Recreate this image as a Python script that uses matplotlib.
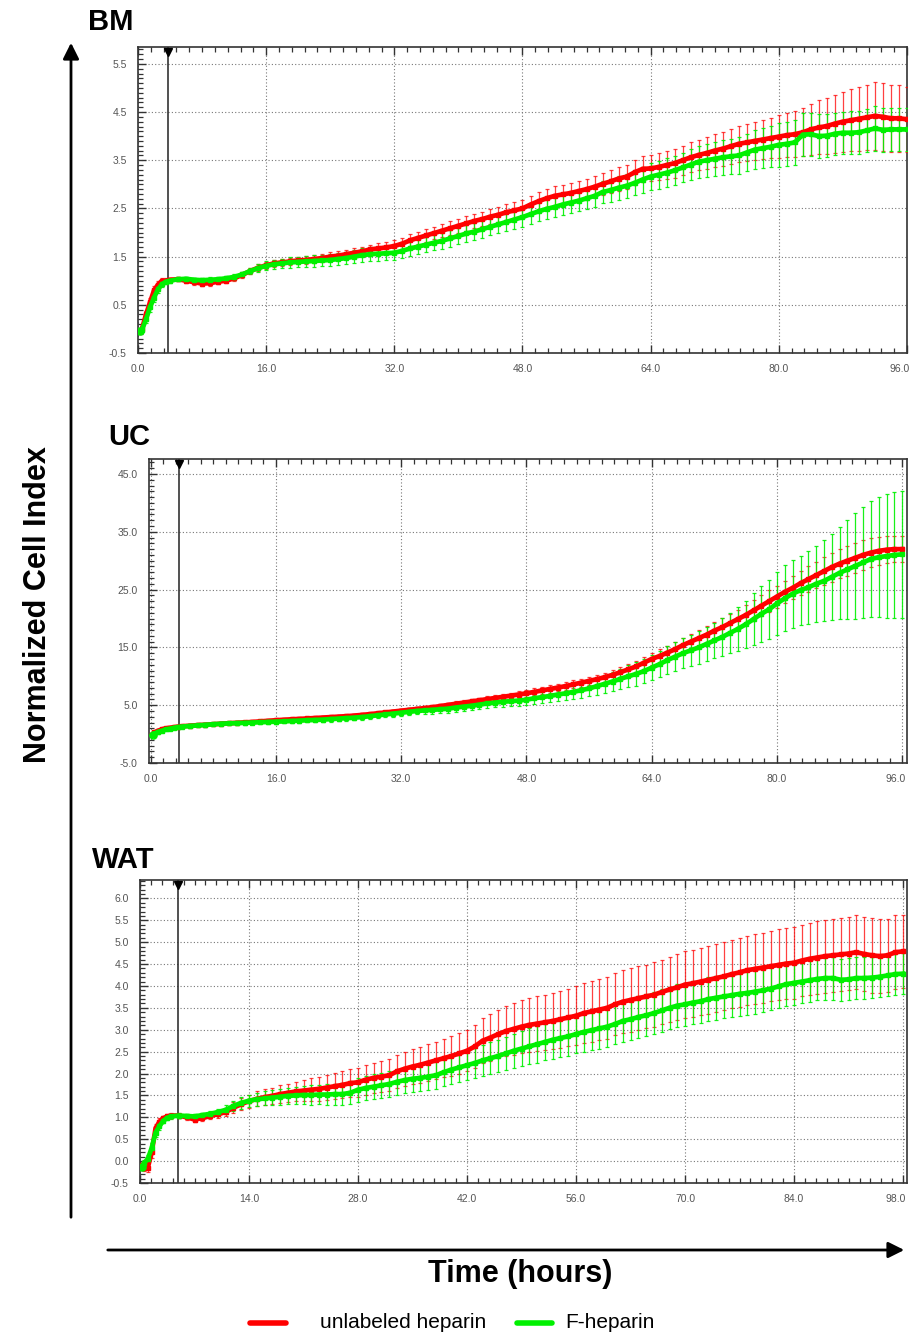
import matplotlib
matplotlib.use("Agg")
import matplotlib.pyplot as plt
from matplotlib.lines import Line2D
from matplotlib.patches import FancyArrowPatch
from matplotlib.ticker import MultipleLocator, FormatStrFormatter, FuncFormatter
import matplotlib.transforms as mtransforms

# ---------------------------------------------------------------- data
EARLY_T = [0.25, 0.5, 1.0, 1.5, 2.0, 2.5, 3.0, 3.5]

time_bm = EARLY_T + list(range(4, 97))
bm_unlabeled = [
    -0.05, 0.0, 0.3, 0.55, 0.8, 0.92, 1.0, 1.0,
    1.02, 1.03, 1.0, 0.97, 0.94, 0.95, 0.98, 1.0, 1.05, 1.12, 1.2, 1.27,
    1.32, 1.36, 1.38, 1.4, 1.42, 1.43, 1.45, 1.47, 1.5, 1.52, 1.55, 1.58,
    1.61, 1.65, 1.67, 1.69, 1.72, 1.77, 1.84, 1.89, 1.94, 1.99, 2.04, 2.09,
    2.14, 2.19, 2.24, 2.28, 2.33, 2.37, 2.42, 2.46, 2.5, 2.58, 2.65, 2.71,
    2.76, 2.79, 2.82, 2.86, 2.9, 2.95, 3.01, 3.06, 3.12, 3.16, 3.25, 3.32,
    3.33, 3.36, 3.4, 3.44, 3.5, 3.56, 3.61, 3.65, 3.7, 3.74, 3.79, 3.84,
    3.87, 3.9, 3.93, 3.96, 3.99, 4.02, 4.04, 4.08, 4.14, 4.18, 4.21, 4.26,
    4.3, 4.33, 4.36, 4.39, 4.42, 4.4, 4.37, 4.37, 4.35]
bm_unlabeled_sd = [
    0.03, 0.05, 0.08, 0.1, 0.1, 0.08, 0.06, 0.05,
    0.04, 0.04, 0.04, 0.05, 0.05, 0.05, 0.05, 0.05, 0.06, 0.06, 0.06, 0.07,
    0.07, 0.07, 0.08, 0.08, 0.08, 0.08, 0.08, 0.09, 0.09, 0.09, 0.09, 0.1,
    0.1, 0.1, 0.11, 0.11, 0.12, 0.12, 0.12, 0.13, 0.13, 0.13, 0.14, 0.14,
    0.14, 0.15, 0.15, 0.15, 0.16, 0.16, 0.17, 0.17, 0.18, 0.18, 0.19, 0.19,
    0.2, 0.2, 0.21, 0.21, 0.22, 0.22, 0.23, 0.24, 0.25, 0.25, 0.26, 0.27,
    0.27, 0.28, 0.29, 0.3, 0.3, 0.31, 0.32, 0.33, 0.34, 0.35, 0.36, 0.37,
    0.38, 0.39, 0.4, 0.42, 0.44, 0.46, 0.48, 0.5, 0.53, 0.56, 0.58, 0.6,
    0.62, 0.64, 0.66, 0.68, 0.7, 0.7, 0.69, 0.7, 0.68]
bm_fheparin = [
    -0.05, -0.02, 0.2, 0.45, 0.65, 0.82, 0.93, 0.98,
    1.0, 1.03, 1.04, 1.02, 1.01, 1.02, 1.03, 1.05, 1.08, 1.13, 1.2, 1.26,
    1.31, 1.34, 1.36, 1.38, 1.39, 1.4, 1.41, 1.42, 1.43, 1.45, 1.47, 1.5,
    1.53, 1.55, 1.56, 1.57, 1.58, 1.62, 1.67, 1.71, 1.75, 1.79, 1.83, 1.88,
    1.93, 1.98, 2.02, 2.07, 2.12, 2.17, 2.22, 2.27, 2.32, 2.38, 2.44, 2.49,
    2.53, 2.58, 2.62, 2.66, 2.71, 2.76, 2.84, 2.88, 2.93, 2.97, 3.03, 3.1,
    3.16, 3.2, 3.24, 3.29, 3.35, 3.41, 3.47, 3.5, 3.53, 3.56, 3.58, 3.6,
    3.66, 3.72, 3.75, 3.78, 3.82, 3.84, 3.87, 4.03, 4.04, 4.0, 4.01, 4.05,
    4.07, 4.07, 4.08, 4.12, 4.16, 4.13, 4.14, 4.14, 4.14]
bm_fheparin_sd = [
    0.03, 0.05, 0.08, 0.1, 0.1, 0.08, 0.06, 0.05,
    0.04, 0.04, 0.04, 0.04, 0.05, 0.05, 0.05, 0.05, 0.06, 0.06, 0.07, 0.08,
    0.09, 0.1, 0.1, 0.11, 0.11, 0.12, 0.12, 0.12, 0.13, 0.13, 0.13, 0.14,
    0.14, 0.14, 0.15, 0.15, 0.15, 0.15, 0.16, 0.16, 0.16, 0.16, 0.17, 0.17,
    0.17, 0.17, 0.18, 0.18, 0.18, 0.19, 0.19, 0.19, 0.2, 0.2, 0.2, 0.21,
    0.21, 0.21, 0.22, 0.22, 0.22, 0.23, 0.23, 0.24, 0.25, 0.25, 0.26, 0.27,
    0.28, 0.29, 0.3, 0.3, 0.31, 0.32, 0.33, 0.34, 0.35, 0.36, 0.37, 0.38,
    0.39, 0.4, 0.42, 0.43, 0.45, 0.46, 0.46, 0.45, 0.45, 0.45, 0.44, 0.44,
    0.44, 0.45, 0.45, 0.45, 0.46, 0.46, 0.45, 0.45, 0.45]

time_uc = EARLY_T + list(range(4, 97))
uc_unlabeled = [
    0.0, 0.3, 0.6, 0.85, 1.0, 1.1, 1.2, 1.28,
    1.35, 1.45, 1.55, 1.62, 1.7, 1.8, 1.88, 1.95, 2.02, 2.1, 2.2, 2.3,
    2.4, 2.48, 2.56, 2.63, 2.7, 2.78, 2.86, 2.94, 3.02, 3.1, 3.2, 3.32,
    3.45, 3.6, 3.75, 3.9, 4.05, 4.2, 4.35, 4.5, 4.65, 4.85, 5.05, 5.25,
    5.45, 5.65, 5.85, 6.05, 6.25, 6.45, 6.65, 6.85, 7.05, 7.3, 7.55, 7.8,
    8.05, 8.3, 8.6, 8.9, 9.2, 9.5, 9.85, 10.25, 10.7, 11.2, 11.7, 12.35,
    13.0, 13.5, 14.1, 14.7, 15.4, 16.0, 16.6, 17.2, 17.9, 18.5, 19.2, 19.9,
    20.6, 21.4, 22.2, 23.0, 23.8, 24.6, 25.3, 26.1, 26.8, 27.5, 28.2, 28.9,
    29.5, 30.0, 30.5, 31.0, 31.4, 31.7, 31.9, 32.0, 32.0]
uc_unlabeled_sd = [
    0.2, 0.2, 0.2, 0.2, 0.2, 0.2, 0.2, 0.2,
    0.2, 0.2, 0.2, 0.2, 0.2, 0.2, 0.2, 0.2, 0.2, 0.2, 0.2, 0.2,
    0.2, 0.2, 0.22, 0.22, 0.22, 0.24, 0.24, 0.24, 0.26, 0.26, 0.26, 0.28,
    0.28, 0.3, 0.3, 0.32, 0.32, 0.34, 0.34, 0.36, 0.36, 0.38, 0.38, 0.4,
    0.42, 0.44, 0.46, 0.48, 0.5, 0.52, 0.54, 0.56, 0.58, 0.6, 0.62, 0.64,
    0.66, 0.68, 0.7, 0.72, 0.75, 0.78, 0.8, 0.85, 0.9, 0.95, 1.0, 1.05,
    1.1, 1.15, 1.2, 1.25, 1.3, 1.35, 1.4, 1.45, 1.5, 1.55, 1.6, 1.65,
    1.7, 1.75, 1.8, 1.85, 1.9, 1.95, 2.0, 2.1, 2.2, 2.3, 2.4, 2.5,
    2.5, 2.6, 2.6, 2.6, 2.5, 2.4, 2.3, 2.2, 2.2]
uc_fheparin = [
    -0.2, 0.1, 0.4, 0.6, 0.8, 0.95, 1.1, 1.2,
    1.3, 1.4, 1.5, 1.6, 1.7, 1.8, 1.85, 1.9, 1.95, 2.0, 2.05, 2.1,
    2.15, 2.2, 2.27, 2.33, 2.4, 2.45, 2.5, 2.6, 2.68, 2.76, 2.84, 2.95,
    3.1, 3.25, 3.4, 3.55, 3.7, 3.85, 4.0, 4.1, 4.2, 4.3, 4.4, 4.6,
    4.75, 4.9, 5.1, 5.3, 5.45, 5.6, 5.7, 5.8, 5.95, 6.2, 6.4, 6.6,
    6.85, 7.05, 7.3, 7.6, 7.9, 8.3, 8.7, 9.1, 9.55, 10.0, 10.4, 10.9,
    11.5, 12.1, 12.8, 13.4, 14.0, 14.5, 15.0, 15.6, 16.2, 16.8, 17.5, 18.2,
    19.0, 19.9, 20.8, 21.6, 22.6, 23.5, 24.3, 24.9, 25.4, 26.0, 26.5, 27.2,
    27.9, 28.5, 29.1, 29.7, 30.3, 30.6, 30.8, 31.0, 31.1]
uc_fheparin_sd = [
    0.3, 0.3, 0.3, 0.3, 0.3, 0.3, 0.3, 0.3,
    0.3, 0.3, 0.3, 0.3, 0.3, 0.3, 0.3, 0.32, 0.32, 0.32, 0.34, 0.34,
    0.35, 0.36, 0.37, 0.38, 0.39, 0.4, 0.41, 0.42, 0.43, 0.44, 0.45, 0.46,
    0.48, 0.5, 0.52, 0.54, 0.56, 0.58, 0.6, 0.62, 0.64, 0.66, 0.68, 0.7,
    0.72, 0.75, 0.78, 0.81, 0.84, 0.87, 0.9, 0.94, 0.98, 1.02, 1.06, 1.1,
    1.15, 1.2, 1.25, 1.3, 1.38, 1.45, 1.55, 1.65, 1.8, 1.9, 2.0, 2.1,
    2.2, 2.3, 2.4, 2.5, 2.6, 2.7, 2.8, 2.9, 3.1, 3.3, 3.5, 3.8,
    4.1, 4.5, 4.8, 5.1, 5.5, 5.7, 5.9, 6.0, 6.3, 6.6, 7.0, 7.4,
    8.0, 8.5, 9.2, 9.6, 10.0, 10.4, 10.7, 10.9, 11.0]

time_wat = EARLY_T + list(range(4, 99))
wat_unlabeled = [
    -0.1, -0.15, -0.15, 0.2, 0.75, 0.9, 0.98, 1.02,
    1.04, 1.04, 1.0, 0.95, 0.98, 1.03, 1.07, 1.12, 1.22, 1.3, 1.37, 1.42,
    1.46, 1.49, 1.53, 1.56, 1.59, 1.61, 1.63, 1.65, 1.68, 1.71, 1.74, 1.78,
    1.8, 1.86, 1.9, 1.93, 1.96, 2.05, 2.11, 2.16, 2.2, 2.25, 2.3, 2.35,
    2.4, 2.46, 2.52, 2.62, 2.75, 2.82, 2.9, 2.97, 3.02, 3.07, 3.11, 3.14,
    3.17, 3.2, 3.24, 3.28, 3.32, 3.38, 3.42, 3.46, 3.5, 3.58, 3.64, 3.68,
    3.72, 3.76, 3.8, 3.86, 3.92, 3.97, 4.03, 4.06, 4.1, 4.14, 4.18, 4.22,
    4.27, 4.31, 4.36, 4.39, 4.42, 4.45, 4.48, 4.51, 4.53, 4.58, 4.62, 4.65,
    4.68, 4.7, 4.72, 4.74, 4.77, 4.73, 4.7, 4.68, 4.7, 4.77, 4.79]
wat_unlabeled_sd = [
    0.05, 0.08, 0.1, 0.12, 0.1, 0.08, 0.06, 0.05,
    0.05, 0.05, 0.05, 0.05, 0.06, 0.07, 0.08, 0.1, 0.12, 0.14, 0.15, 0.17,
    0.18, 0.19, 0.2, 0.21, 0.22, 0.24, 0.26, 0.27, 0.28, 0.3, 0.31, 0.32,
    0.33, 0.34, 0.35, 0.36, 0.37, 0.38, 0.39, 0.4, 0.41, 0.42, 0.43, 0.44,
    0.45, 0.46, 0.47, 0.49, 0.51, 0.53, 0.55, 0.57, 0.59, 0.6, 0.61, 0.62,
    0.63, 0.64, 0.65, 0.66, 0.67, 0.68, 0.69, 0.7, 0.7, 0.71, 0.72, 0.72,
    0.73, 0.73, 0.74, 0.74, 0.75, 0.75, 0.76, 0.76, 0.77, 0.77, 0.78, 0.78,
    0.78, 0.79, 0.79, 0.8, 0.8, 0.8, 0.81, 0.81, 0.82, 0.82, 0.82, 0.83,
    0.83, 0.83, 0.84, 0.84, 0.84, 0.85, 0.85, 0.84, 0.84, 0.84, 0.83]
wat_fheparin = [
    -0.13, -0.05, 0.05, 0.3, 0.65, 0.8, 0.92, 0.99,
    1.02, 1.04, 1.03, 1.02, 1.05, 1.08, 1.12, 1.17, 1.26, 1.33, 1.38, 1.41,
    1.43, 1.45, 1.47, 1.49, 1.5, 1.51, 1.51, 1.52, 1.52, 1.53, 1.53, 1.56,
    1.63, 1.67, 1.7, 1.73, 1.76, 1.81, 1.85, 1.88, 1.9, 1.93, 1.96, 2.03,
    2.09, 2.14, 2.19, 2.24, 2.3, 2.35, 2.4, 2.46, 2.52, 2.57, 2.62, 2.67,
    2.72, 2.77, 2.81, 2.85, 2.9, 2.95, 2.99, 3.03, 3.07, 3.13, 3.2, 3.24,
    3.29, 3.33, 3.38, 3.44, 3.5, 3.55, 3.58, 3.62, 3.65, 3.7, 3.73, 3.76,
    3.79, 3.82, 3.84, 3.87, 3.9, 3.94, 3.99, 4.04, 4.07, 4.1, 4.13, 4.16,
    4.18, 4.18, 4.14, 4.15, 4.18, 4.18, 4.19, 4.21, 4.24, 4.27, 4.28]
wat_fheparin_sd = [
    0.05, 0.08, 0.1, 0.12, 0.1, 0.08, 0.06, 0.05,
    0.05, 0.05, 0.05, 0.05, 0.06, 0.07, 0.08, 0.1, 0.12, 0.13, 0.14, 0.15,
    0.16, 0.17, 0.18, 0.19, 0.2, 0.21, 0.22, 0.22, 0.23, 0.24, 0.25, 0.26,
    0.27, 0.27, 0.28, 0.28, 0.29, 0.29, 0.3, 0.3, 0.31, 0.31, 0.32, 0.32,
    0.33, 0.33, 0.34, 0.34, 0.35, 0.36, 0.37, 0.38, 0.39, 0.4, 0.41, 0.42,
    0.42, 0.43, 0.43, 0.44, 0.44, 0.45, 0.45, 0.46, 0.46, 0.46, 0.47, 0.47,
    0.47, 0.48, 0.48, 0.48, 0.48, 0.49, 0.49, 0.49, 0.49, 0.5, 0.5, 0.5,
    0.5, 0.5, 0.5, 0.5, 0.5, 0.5, 0.5, 0.5, 0.5, 0.5, 0.49, 0.49,
    0.49, 0.49, 0.48, 0.48, 0.48, 0.48, 0.47, 0.47, 0.47, 0.47, 0.47]

panel_names = ["BM", "UC", "WAT"]
legend_labels = ["unlabeled heparin", "F-heparin"]

# ---------------------------------------------------------------- style
W, H = 911, 1336
DPI = 100
RED = "#ff0000"
GREEN = "#00f000"
SANS = ["Liberation Sans", "DejaVu Sans"]
TICK_GREY = "#555555"

fig = plt.figure(figsize=(W / DPI, H / DPI), dpi=DPI)


def px_box(left, top, right, bottom):
    return [left / W, 1 - bottom / H, (right - left) / W, (bottom - top) / H]


panels = [
    dict(name=panel_names[0], box=px_box(138, 47, 907, 353), t=time_bm,
         r=bm_unlabeled, rs=bm_unlabeled_sd, g=bm_fheparin, gs=bm_fheparin_sd,
         xlim=(0, 96), xmaj=16, xlast=96, ylim=(-0.5, 5.85), ymin=0.1,
         yticks=[-0.5, 0.5, 1.5, 2.5, 3.5, 4.5, 5.5], vline=3.8,
         title_xy=(88, 22)),
    dict(name=panel_names[1], box=px_box(149, 459, 907, 763), t=time_uc,
         r=uc_unlabeled, rs=uc_unlabeled_sd, g=uc_fheparin, gs=uc_fheparin_sd,
         xlim=(-0.2, 96.6), xmaj=16, xlast=96, ylim=(-5, 47.6), ymin=1,
         yticks=[-5, 5, 15, 25, 35, 45], vline=3.6,
         title_xy=(108, 437)),
    dict(name=panel_names[2], box=px_box(140, 880, 907, 1183), t=time_wat,
         r=wat_unlabeled, rs=wat_unlabeled_sd, g=wat_fheparin, gs=wat_fheparin_sd,
         xlim=(0, 98.5), xmaj=14, xlast=98, ylim=(-0.5, 6.42), ymin=0.1,
         yticks=[-0.5 + 0.5 * k for k in range(14)], vline=4.9,
         title_xy=(92, 860)),
]

for p in panels:
    ax = fig.add_axes(p["box"])
    ax.set_xlim(*p["xlim"])
    ax.set_ylim(*p["ylim"])

    # error bars first, then the mean traces on top
    ax.errorbar(p["t"], p["r"], yerr=p["rs"], fmt="none", ecolor=RED,
                elinewidth=0.9, capsize=1.2, capthick=0.9, alpha=0.75, zorder=3)
    ax.errorbar(p["t"], p["g"], yerr=p["gs"], fmt="none", ecolor=GREEN,
                elinewidth=0.9, capsize=1.2, capthick=0.9, alpha=0.9, zorder=4)
    ax.plot(p["t"], p["r"], color=RED, lw=3.4, marker="s", ms=2.5, zorder=5)
    ax.plot(p["t"], p["g"], color=GREEN, lw=3.4, marker="s", ms=2.5, zorder=6)
    ax.plot(p["t"][0], p["g"][0], marker="o", ms=5, mfc="none", mec=GREEN,
            mew=1.2, zorder=7)

    # event marker
    ax.axvline(p["vline"], color="#222222", lw=1.1, zorder=2)
    trans = mtransforms.blended_transform_factory(ax.transData, ax.transAxes)
    ax.plot([p["vline"]], [0.985], marker="v", ms=5.5, color="black",
            transform=trans, clip_on=False, zorder=8)

    last = p["xlast"]
    ax.xaxis.set_major_locator(MultipleLocator(p["xmaj"]))
    ax.xaxis.set_minor_locator(MultipleLocator(p["xmaj"] / 10))
    ax.xaxis.set_major_formatter(FuncFormatter(
        lambda v, pos, last=last: "" if abs(v - last) < 1e-6 else f"{v:.1f}"))
    ax.set_yticks(p["yticks"])
    ax.yaxis.set_minor_locator(MultipleLocator(p["ymin"]))
    ax.yaxis.set_major_formatter(FormatStrFormatter("%.1f"))

    ax.grid(True, which="major", linestyle=(0, (1, 2)), color="#777777", lw=0.8)
    ax.tick_params(which="both", direction="in", top=True, right=False,
                   color="#333333", labelcolor=TICK_GREY, labelsize=7.5)
    ax.tick_params(which="major", length=6, width=1.0)
    ax.tick_params(which="minor", length=3.5, width=0.9)
    ax.tick_params(axis="y", pad=8)
    ax.tick_params(axis="x", pad=8)
    for lab in ax.get_xticklabels() + ax.get_yticklabels():
        lab.set_family(SANS)
    # label of the last hour, nudged left so it stays inside the figure
    ax.annotate(f"{last:.1f}", xy=(last, 0), xycoords=trans,
                xytext=(-5, -8), textcoords="offset points", ha="center",
                va="top", fontsize=7.5, color=TICK_GREY, family=SANS)
    for s in ax.spines.values():
        s.set_color("#333333")
        s.set_linewidth(1.2)

    fig.text(p["title_xy"][0] / W, 1 - p["title_xy"][1] / H, p["name"],
             fontsize=21, fontweight="bold", family=SANS,
             ha="left", va="center")

# ---------------------------------------------------------------- axes arrows and labels
fig.add_artist(FancyArrowPatch((71 / W, 1 - 1220 / H), (71 / W, 1 - 40 / H),
                               transform=fig.transFigure, arrowstyle="-|>",
                               mutation_scale=24, lw=2, color="black"))
fig.add_artist(FancyArrowPatch((105 / W, 1 - 1250 / H), (907 / W, 1 - 1250 / H),
                               transform=fig.transFigure, arrowstyle="-|>",
                               mutation_scale=24, lw=2, color="black"))
fig.text(38 / W, 1 - 605 / H, "Normalized Cell Index", rotation=90,
         fontsize=22, fontweight="bold", family=SANS, ha="center", va="center")
fig.text(520 / W, 1 - 1274 / H, "Time (hours)", fontsize=22,
         fontweight="bold", family=SANS, ha="center", va="center")

# legend
for x0, x1, col in [(250, 286, RED), (517, 552, GREEN)]:
    fig.add_artist(Line2D([x0 / W, x1 / W], [1 - 1323 / H] * 2,
                          transform=fig.transFigure, color=col, lw=4,
                          solid_capstyle="round"))
fig.text(320 / W, 1 - 1323 / H, legend_labels[0], fontsize=15, family=SANS,
         ha="left", va="center")
fig.text(565 / W, 1 - 1323 / H, legend_labels[1], fontsize=15, family=SANS,
         ha="left", va="center")

fig.savefig("out.png", dpi=DPI)
